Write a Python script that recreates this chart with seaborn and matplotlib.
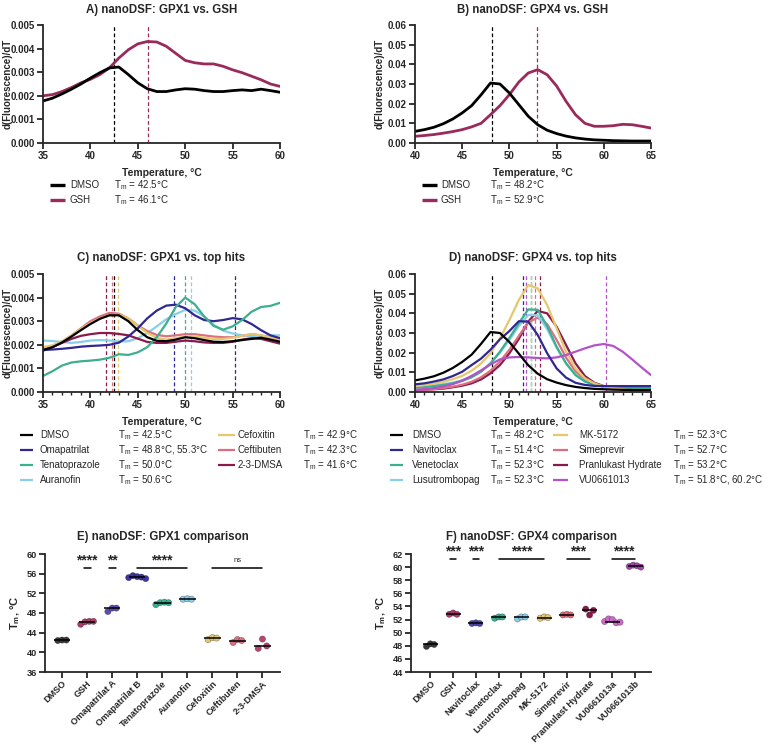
import numpy as np
import pandas as pd
import matplotlib
matplotlib.use("Agg")
import matplotlib.pyplot as plt
import seaborn as sns
from matplotlib.lines import Line2D
from matplotlib.ticker import FormatStrFormatter, MultipleLocator

sns.set_theme(style="ticks")
plt.rcParams['font.family'] = ['Liberation Sans', 'DejaVu Sans']
plt.rcParams['mathtext.default'] = 'regular'
plt.rcParams['axes.linewidth'] = 1.3

# ---------------- data ----------------
temps_A = list(range(35, 61))
dmso_A = [0.00178, 0.00190, 0.00208, 0.00228, 0.00250, 0.00275, 0.00298, 0.00318, 0.00322, 0.00290,
          0.00255, 0.00230, 0.00218, 0.00218, 0.00225, 0.00230, 0.00228, 0.00222, 0.00218, 0.00218,
          0.00222, 0.00225, 0.00222, 0.00228, 0.00222, 0.00215]
gsh_A = [0.00200, 0.00205, 0.00218, 0.00235, 0.00255, 0.00270, 0.00290, 0.00318, 0.00360, 0.00395,
         0.00420, 0.00430, 0.00428, 0.00410, 0.00380, 0.00350, 0.00340, 0.00335, 0.00335, 0.00325,
         0.00310, 0.00298, 0.00283, 0.00268, 0.00250, 0.00240]
names_A = ["DMSO", "GSH"]
tm_A = [[42.5], [46.1]]

temps_B = list(range(40, 66))
dmso_B = [0.0059, 0.0068, 0.0080, 0.0098, 0.0122, 0.0153, 0.0190, 0.0245, 0.0305, 0.0300,
          0.0254, 0.0195, 0.0136, 0.0093, 0.0065, 0.0048, 0.0035, 0.0026, 0.0020, 0.0016,
          0.0014, 0.0012, 0.0011, 0.0010, 0.0010, 0.0010]
gsh_B = [0.0034, 0.0038, 0.0043, 0.0050, 0.0058, 0.0068, 0.0082, 0.0100, 0.0144, 0.0190,
         0.0246, 0.0310, 0.0356, 0.0373, 0.0347, 0.0290, 0.0212, 0.0144, 0.0100, 0.0085,
         0.0085, 0.0088, 0.0095, 0.0093, 0.0085, 0.0076]
names_B = ["DMSO", "GSH"]
tm_B = [[48.2], [52.9]]

temps_C = list(range(35, 61))
dmso_C = [0.00178, 0.00190, 0.00210, 0.00235, 0.00262, 0.00288, 0.00310, 0.00325, 0.00325, 0.00300,
          0.00262, 0.00232, 0.00217, 0.00215, 0.00222, 0.00232, 0.00228, 0.00220, 0.00213, 0.00212,
          0.00215, 0.00220, 0.00225, 0.00230, 0.00222, 0.00213]
oma_C = [0.00178, 0.00180, 0.00183, 0.00187, 0.00192, 0.00195, 0.00197, 0.00200, 0.00209, 0.00235,
         0.00270, 0.00312, 0.00345, 0.00366, 0.00370, 0.00355, 0.00325, 0.00305, 0.00300, 0.00305,
         0.00313, 0.00308, 0.00288, 0.00262, 0.00240, 0.00228]
tena_C = [0.00068, 0.00088, 0.00112, 0.00125, 0.00130, 0.00133, 0.00137, 0.00145, 0.00160, 0.00157,
          0.00168, 0.00190, 0.00232, 0.00290, 0.00360, 0.00400, 0.00372, 0.00320, 0.00280, 0.00264,
          0.00278, 0.00305, 0.00340, 0.00360, 0.00365, 0.00378]
aura_C = [0.00218, 0.00216, 0.00212, 0.00208, 0.00212, 0.00218, 0.00220, 0.00218, 0.00214, 0.00215,
          0.00228, 0.00250, 0.00278, 0.00308, 0.00330, 0.00348, 0.00345, 0.00320, 0.00285, 0.00260,
          0.00248, 0.00240, 0.00236, 0.00236, 0.00240, 0.00240]
cefo_C = [0.00190, 0.00198, 0.00215, 0.00240, 0.00268, 0.00292, 0.00312, 0.00325, 0.00328, 0.00312,
          0.00280, 0.00250, 0.00230, 0.00222, 0.00228, 0.00235, 0.00235, 0.00230, 0.00225, 0.00225,
          0.00230, 0.00238, 0.00245, 0.00240, 0.00230, 0.00220]
ceft_C = [0.00180, 0.00192, 0.00212, 0.00240, 0.00270, 0.00300, 0.00320, 0.00335, 0.00332, 0.00312,
          0.00282, 0.00258, 0.00242, 0.00236, 0.00240, 0.00245, 0.00245, 0.00240, 0.00235, 0.00232,
          0.00232, 0.00238, 0.00245, 0.00240, 0.00230, 0.00220]
dmsa_C = [0.00175, 0.00190, 0.00208, 0.00225, 0.00238, 0.00245, 0.00250, 0.00250, 0.00246, 0.00240,
          0.00226, 0.00212, 0.00208, 0.00208, 0.00213, 0.00218, 0.00215, 0.00210, 0.00208, 0.00208,
          0.00213, 0.00222, 0.00228, 0.00225, 0.00215, 0.00205]
names_C = ["DMSO", "Omapatrilat", "Tenatoprazole", "Auranofin", "Cefoxitin", "Ceftibuten", "2-3-DMSA"]
tm_C = [[42.5], [48.8, 55.3], [50.0], [50.6], [42.9], [42.3], [41.6]]

temps_D = list(range(40, 66))
dmso_D = dmso_B
navi_D = [0.0039, 0.0044, 0.0053, 0.0064, 0.0081, 0.0103, 0.0137, 0.0170, 0.0215, 0.0268,
          0.0310, 0.0360, 0.0358, 0.0290, 0.0197, 0.0120, 0.0073, 0.0047, 0.0036, 0.0031,
          0.0030, 0.0030, 0.0030, 0.0030, 0.0030, 0.0030]
vene_D = [0.0022, 0.0025, 0.0030, 0.0036, 0.0044, 0.0056, 0.0075, 0.0103, 0.0146, 0.0205,
          0.0275, 0.0350, 0.0420, 0.0418, 0.0335, 0.0230, 0.0146, 0.0086, 0.0053, 0.0036,
          0.0027, 0.0023, 0.0021, 0.0020, 0.0020, 0.0020]
lusu_D = [0.0025, 0.0028, 0.0033, 0.0040, 0.0048, 0.0060, 0.0078, 0.0105, 0.0145, 0.0200,
          0.0265, 0.0335, 0.0392, 0.0390, 0.0320, 0.0225, 0.0145, 0.0088, 0.0055, 0.0038,
          0.0030, 0.0026, 0.0024, 0.0023, 0.0023, 0.0023]
mk_D = [0.0030, 0.0035, 0.0042, 0.0052, 0.0065, 0.0082, 0.0108, 0.0145, 0.0197, 0.0273,
        0.0366, 0.0468, 0.0544, 0.0527, 0.0442, 0.0324, 0.0205, 0.0120, 0.0070, 0.0044,
        0.0027, 0.0019, 0.0014, 0.0007, 0.0001, -0.0002]
sime_D = [0.0010, 0.0012, 0.0015, 0.0020, 0.0027, 0.0037, 0.0052, 0.0075, 0.0108, 0.0155,
          0.0215, 0.0285, 0.0355, 0.0378, 0.0345, 0.0265, 0.0175, 0.0105, 0.0062, 0.0038,
          0.0027, 0.0022, 0.0020, 0.0019, 0.0019, 0.0019]
pran_D = [0.0010, 0.0012, 0.0014, 0.0017, 0.0024, 0.0032, 0.0044, 0.0064, 0.0095, 0.0137,
          0.0197, 0.0270, 0.0358, 0.0412, 0.0400, 0.0332, 0.0239, 0.0146, 0.0081, 0.0047,
          0.0030, 0.0025, 0.0024, 0.0024, 0.0024, 0.0024]
vu_D = [0.0010, 0.0014, 0.0020, 0.0028, 0.0040, 0.0058, 0.0082, 0.0110, 0.0140, 0.0166,
        0.0176, 0.0178, 0.0176, 0.0173, 0.0171, 0.0176, 0.0188, 0.0205, 0.0222, 0.0237,
        0.0244, 0.0234, 0.0205, 0.0166, 0.0125, 0.0086]
names_D = ["DMSO", "Navitoclax", "Venetoclax", "Lusutrombopag", "MK-5172", "Simeprevir",
           "Pranlukast Hydrate", "VU0661013"]
tm_D = [[48.2], [51.4], [52.3], [52.3], [52.3], [52.7], [53.2], [51.8, 60.2]]

cats_E = ["DMSO", "GSH", "Omapatrilat A", "Omapatrilat B", "Tenatoprazole", "Auranofin",
          "Cefoxitin", "Ceftibuten", "2-3-DMSA"]
vals_E = [[42.4, 42.5, 42.5], [45.7, 46.2, 46.3, 46.3], [48.3, 49.0, 49.0],
          [55.2, 55.6, 55.4, 55.3, 55.0], [49.7, 50.1, 50.2, 50.1], [50.8, 50.9, 50.8],
          [42.6, 43.0, 42.9], [42.0, 42.6, 42.4], [40.8, 42.7, 41.3]]
sig_E = [(1, 1, "****"), (2, 2, "**"), (3, 5, "****"), (6, 8, "ns")]

cats_F = ["DMSO", "GSH", "Navitoclax", "Venetoclax", "Lusutrombopag", "MK-5172", "Simeprevir",
          "Prankulast Hydrate", "VU0661013a", "VU0661013b"]
vals_F = [[47.9, 48.3, 48.2], [52.8, 53.0, 52.8], [51.4, 51.5, 51.4], [52.2, 52.4, 52.4],
          [52.1, 52.4, 52.4], [52.2, 52.4, 52.3], [52.7, 52.8, 52.7], [53.6, 52.7, 53.4],
          [51.7, 52.1, 52.0, 51.5, 51.6], [60.1, 60.3, 60.2, 60.0]]
sig_F = [(1, 1, "***"), (2, 2, "***"), (3, 5, "****"), (6, 7, "***"), (8, 9, "****")]

# ---------------- colours ----------------
BLACK = "#000000"
GSHC = "#9B2A5C"
INDIGO = "#2F2890"
TEAL = "#3CAF8F"
LBLUE = "#88CFEC"
YELLOW = "#E6C76E"
PINK = "#DB6F80"
MAROON = "#8A1A4B"
PURPLE = "#B452C8"

cols_A = [BLACK, GSHC]
cols_C = [BLACK, INDIGO, TEAL, LBLUE, YELLOW, PINK, MAROON]
cols_D = [BLACK, INDIGO, TEAL, LBLUE, YELLOW, PINK, MAROON, PURPLE]
pcols_E = ["#3A3A3A", "#B03A6A", "#5A4DB5", "#3F35A0", TEAL, LBLUE, YELLOW, PINK, "#B8456E"]
pcols_F = ["#3A3A3A", "#B03A6A", "#4A45B0", TEAL, LBLUE, YELLOW, PINK, MAROON, "#C86CC8", "#A843B0"]

# ---------------- figure ----------------
W, H = 765, 745
fig = plt.figure(figsize=(W / 100, H / 100), dpi=100)


def ax_at(l, t, r, b):
    return fig.add_axes([l / W, 1 - b / H, (r - l) / W, (b - t) / H])


def style_axes(ax, lsize=7.3):
    sns.despine(ax=ax)
    ax.tick_params(axis='both', which='major', direction='out', length=4, width=1.3,
                   labelsize=lsize, pad=2)
    ax.tick_params(axis='both', which='minor', direction='out', length=2.5, width=1.0)
    for lab in ax.get_xticklabels() + ax.get_yticklabels():
        lab.set_fontweight('bold')


def curve_panel(ax, temps, names, series, colors, tms, order, xlim, xstep, ylim, ystep, fmt,
                title, lw, minor):
    df = pd.DataFrame({
        'T': np.tile(temps, len(names)),
        'v': np.concatenate(series),
        'name': np.repeat(names, len(temps)),
    })
    pal = dict(zip(names, colors))
    sns.lineplot(data=df, x='T', y='v', hue='name', hue_order=order, palette=pal,
                 linewidth=lw, legend=False, ax=ax, estimator=None, sort=True)
    for nm in order:
        i = names.index(nm)
        for t in tms[i]:
            ax.axvline(t, color=colors[i], ls=(0, (3, 2)), lw=0.9, zorder=1)
    ax.set_xlim(*xlim)
    ax.set_ylim(*ylim)
    ax.xaxis.set_major_locator(MultipleLocator(xstep))
    if minor:
        ax.xaxis.set_minor_locator(MultipleLocator(1))
    ax.yaxis.set_major_locator(MultipleLocator(ystep))
    ax.yaxis.set_major_formatter(FormatStrFormatter(fmt))
    ax.set_xlabel("Temperature, °C", fontsize=7.5, fontweight='bold', labelpad=5)
    ax.set_ylabel("d(Fluorescence)/dT", fontsize=7, fontweight='bold')
    ax.yaxis.set_label_coords(-0.128, 0.5)
    ax.set_title(title, fontsize=8.3, fontweight='bold', pad=9)
    style_axes(ax, lsize=7)


def legend_rows(names, colors, tms, idx, xh, xn, xt, ys, lw):
    for k, y in zip(idx, ys):
        yy = 1 - y / H
        fig.add_artist(Line2D([xh[0] / W, xh[1] / W], [yy, yy], color=colors[k], lw=lw,
                              transform=fig.transFigure, solid_capstyle='butt'))
        fig.text(xn / W, yy, names[k], va='center', ha='left', fontsize=7)
        fig.text(xt / W, yy, "T$_m$ = " + ", ".join(f"{t:.1f}°C" for t in tms[k]),
                 va='center', ha='left', fontsize=7)


def comparison_panel(ax, cats, vals, pcols, sigs, ylim, ystep, title, star_y, line_y, xlim):
    rows = []
    for i, (c, v) in enumerate(zip(cats, vals)):
        n = len(v)
        for j, val in enumerate(v):
            rows.append({'cat': c, 'pos': i + (j - (n - 1) / 2) * 0.17, 'Tm': val})
    df = pd.DataFrame(rows)
    sns.scatterplot(data=df, x='pos', y='Tm', hue='cat', hue_order=cats,
                    palette=dict(zip(cats, pcols)), s=20, edgecolor=(0, 0, 0, 0.35),
                    linewidth=0.5, legend=False, ax=ax, zorder=3, clip_on=False)
    for i, v in enumerate(vals):
        ax.hlines(np.median(v), i - 0.33, i + 0.33, color='black', lw=1.1, zorder=4)
    for a, b, s in sigs:
        if a == b:
            ax.plot([a - 0.14, a + 0.14], [line_y, line_y], color='black', lw=1.1, clip_on=False)
        else:
            ax.plot([a, b], [line_y, line_y], color='black', lw=1.1, clip_on=False)
        if s == "ns":
            ax.text((a + b) / 2, star_y, s, ha='center', va='center', fontsize=5.5)
        else:
            ax.text((a + b) / 2, star_y, s, ha='center', va='center', fontsize=10,
                    fontweight='bold')
    ax.set_xlim(*xlim)
    ax.set_ylim(*ylim)
    ax.yaxis.set_major_locator(MultipleLocator(ystep))
    ax.set_xticks(range(len(cats)))
    ax.set_xticklabels(cats, rotation=45, ha='right', rotation_mode='anchor')
    ax.set_xlabel("")
    ax.set_ylabel("T$_m$, °C", fontsize=8, fontweight='bold', labelpad=3)
    ax.set_title(title, fontsize=8.3, fontweight='bold', pad=10)
    style_axes(ax, lsize=6.6)
    ax.tick_params(axis='x', pad=1)


# Panel A
axA = ax_at(43, 25, 280, 143)
curve_panel(axA, temps_A, names_A, [dmso_A, gsh_A], cols_A, tm_A, ["GSH", "DMSO"],
            (35, 60), 5, (0, 0.005), 0.001, '%.3f', "A) nanoDSF: GPX1 vs. GSH", 2.0, False)
legend_rows(names_A, cols_A, tm_A, [0, 1], (50, 65), 70, 114, [185, 200], 2.4)

# Panel B
axB = ax_at(415, 25, 651, 143)
curve_panel(axB, temps_B, names_B, [dmso_B, gsh_B], cols_A, tm_B, ["GSH", "DMSO"],
            (40, 65), 5, (0, 0.06), 0.01, '%.2f', "B) nanoDSF: GPX4 vs. GSH", 2.0, False)
legend_rows(names_B, cols_A, tm_B, [0, 1], (422, 437), 441, 490, [185, 200], 2.4)

# Panel C
axC = ax_at(43, 274, 280, 392)
curve_panel(axC, temps_C, names_C, [dmso_C, oma_C, tena_C, aura_C, cefo_C, ceft_C, dmsa_C],
            cols_C, tm_C,
            ["Auranofin", "2-3-DMSA", "Ceftibuten", "Cefoxitin", "Omapatrilat", "Tenatoprazole", "DMSO"],
            (35, 60), 5, (0, 0.005), 0.001, '%.3f', "C) nanoDSF: GPX1 vs. top hits", 1.6, True)
legend_rows(names_C, cols_C, tm_C, [0, 1, 2, 3], (20, 33), 40, 118, [435, 450, 465, 480], 1.6)
legend_rows(names_C, cols_C, tm_C, [4, 5, 6], (218, 235), 238, 303, [435, 450, 465], 1.6)

# Panel D
axD = ax_at(415, 274, 651, 392)
curve_panel(axD, temps_D, names_D, [dmso_D, navi_D, vene_D, lusu_D, mk_D, sime_D, pran_D, vu_D],
            cols_D, tm_D,
            ["Pranlukast Hydrate", "Simeprevir", "Lusutrombopag", "Venetoclax", "MK-5172",
             "VU0661013", "Navitoclax", "DMSO"],
            (40, 65), 5, (0, 0.06), 0.01, '%.2f', "D) nanoDSF: GPX4 vs. top hits", 1.6, True)
legend_rows(names_D, cols_D, tm_D, [0, 1, 2, 3], (390, 403), 412, 490, [435, 450, 465, 480], 1.6)
legend_rows(names_D, cols_D, tm_D, [4, 5, 6, 7], (553, 568), 579, 673, [435, 450, 465, 480], 1.6)

# Panel E
axE = ax_at(45, 554, 280, 672)
comparison_panel(axE, cats_E, vals_E, pcols_E, sig_E, (36, 60), 4,
                 "E) nanoDSF: GPX1 comparison", 58.6, 57.1, (-0.68, 8.7))

# Panel F
axF = ax_at(411, 554, 651, 672)
comparison_panel(axF, cats_F, vals_F, pcols_F, sig_F, (44, 62), 2,
                 "F) nanoDSF: GPX4 comparison", 62.35, 61.2, (-0.85, 9.7))

fig.savefig("out.png", dpi=100)
